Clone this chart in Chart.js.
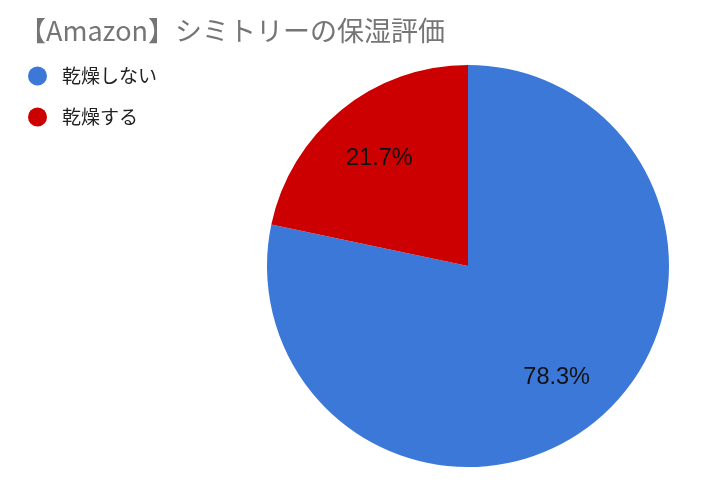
<!DOCTYPE html>
<html>
<head>
<meta charset="utf-8">
<script src="https://cdn.jsdelivr.net/npm/chart.js@4"></script>
<style>
  html, body { margin: 0; padding: 0; background: #fff; }
  #wrap { width: 720px; height: 498px; position: relative; }
</style>
</head>
<body>
<div id="wrap"><canvas id="pieChart"></canvas></div>
<script>
const chartTitle = '【Amazon】シミトリーの保湿評価';
const categories = ['乾燥しない', '乾燥する'];
const shares = [78.3, 21.7];
const colors = ['#3c78d8', '#cc0000'];

// title, legend and slice labels drawn on the canvas
const drawText = {
    id: 'drawText',
    afterDraw(chart) {
        const ctx = chart.ctx;
        ctx.save();
        ctx.textBaseline = 'middle';

        ctx.fillStyle = '#757575';
        ctx.font = '27px "Noto Sans CJK JP", "Noto Sans", sans-serif';
        ctx.textAlign = 'left';
        ctx.fillText(chartTitle, 19, 31);

        ctx.font = '19px "Noto Sans CJK JP", sans-serif';
        categories.forEach((c, i) => {
            let y = 76 + i * 41;
            ctx.fillStyle = colors[i];
            ctx.beginPath();
            ctx.arc(37.5, y, 9.5, 0, Math.PI * 2);
            ctx.fill();
            ctx.fillStyle = '#222';
            ctx.fillText(c, 62, y);
        });

        const meta = chart.getDatasetMeta(0);
        ctx.font = '23.5px "Liberation Sans", Arial, sans-serif';
        ctx.fillStyle = '#111';
        ctx.textAlign = 'center';
        meta.data.forEach((arc, i) => {
            let mid = (arc.startAngle + arc.endAngle) / 2;
            let r = arc.outerRadius * 0.7;
            ctx.fillText(shares[i].toFixed(1) + '%', arc.x + Math.cos(mid) * r, arc.y + Math.sin(mid) * r + 2);
        });
        ctx.restore();
    }
};

let pieChart = new Chart(document.getElementById('pieChart').getContext('2d'), {
    type: 'pie',
    data: {
        labels: categories,
        datasets: [{
            data: shares,
            backgroundColor: colors,
            borderWidth: 0
        }]
    },
    options: {
        responsive: true,
        maintainAspectRatio: false,
        animation: false,
        layout: {
            padding: { left: 267, right: 51, top: 65, bottom: 31 }
        },
        plugins: {
            legend: { display: false },
            title: { display: false },
            tooltip: { enabled: false }
        }
    },
    plugins: [drawText]
});
</script>
</body>
</html>
